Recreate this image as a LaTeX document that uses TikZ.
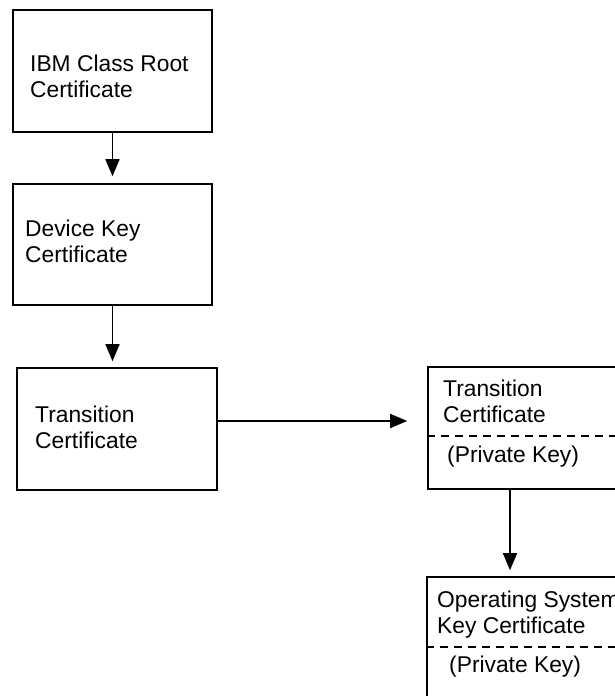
\documentclass[tikz,border=0pt]{standalone}
\usepackage{fontspec}
\setmainfont{Liberation Sans}
\usetikzlibrary{arrows.meta}

\begin{document}
\begin{tikzpicture}[x=1pt, y=-1pt,
  cert/.style={rectangle, draw, line width=1.6pt, minimum width=200pt, minimum height=122pt, inner sep=0pt},
  certtext/.style={anchor=west, align=left, inner sep=0pt, font=\fontsize{22.8}{26}\selectfont},
  keyline/.style={line width=1.3pt, dash pattern=on 8pt off 6pt},
  link/.style={line width=1.6pt, -{Triangle[length=17pt, width=14pt]}}]
\useasboundingbox (0, 0) rectangle (615, 696);
\clip (0, 0) rectangle (615, 696);

\node at (112.5, 71) [cert, minimum width=199pt] (root) {};
\node at (112.5, 244.5) [cert, minimum width=199pt, minimum height=121pt] (device) {};
\node at (117, 429) [cert] (trans) {};
\node at (528, 428) [cert] (transkey) {};
\node at (527, 638) [cert] (oskey) {};

\node at (30, 76) [certtext] (roottext) {IBM Class Root\\Certificate};
\node at (25, 241) [certtext] (devicetext) {Device Key\\Certificate};
\node at (35, 427) [certtext] (transtext) {Transition\\Certificate};
\node at (443, 401) [certtext] (transkeytext) {Transition\\Certificate};
\node at (447, 457) [certtext] (transkeypriv) {(Private Key)};
\node at (437, 615) [certtext] (oskeytext) {Operating System\\Key Certificate};
\node at (449, 667) [certtext] (oskeypriv) {(Private Key)};

% split lines for the private key part
\draw[keyline] ([yshift=-8pt]transkey.west) -- ([yshift=-8pt]transkey.east);
\draw[keyline] ([yshift=-9pt]oskey.west) -- ([yshift=-9pt]oskey.east);

\draw[link, shorten >=7pt] (root.south) -- (device.north);
\draw[link, shorten >=6pt] (device.south) -- (device.south |- trans.north);
\draw[link, shorten >=20pt] ([yshift=8pt]trans.east) -- ([yshift=8pt]trans.east -| transkey.west);
\draw[link, shorten >=6pt] ([xshift=-18pt]transkey.south) -- ([xshift=-18pt]transkey.south |- oskey.north);
\end{tikzpicture}
\end{document}
